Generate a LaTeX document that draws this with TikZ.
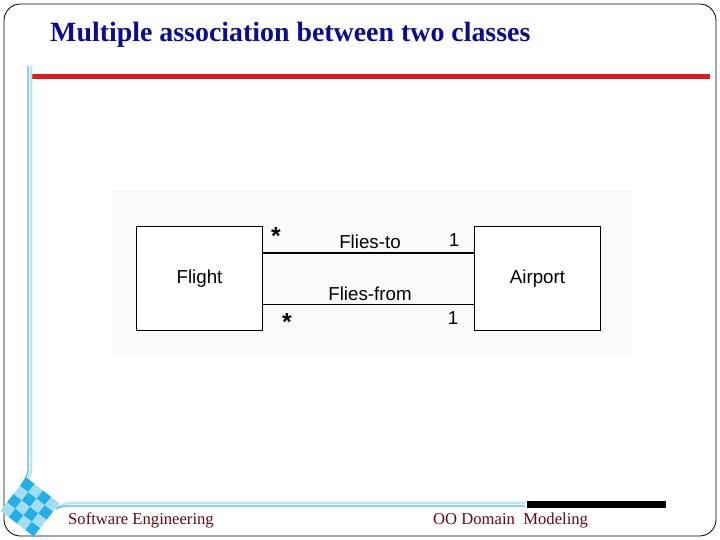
\documentclass[tikz,border=0pt]{standalone}
\usepackage{fontspec}
\setmainfont{Liberation Serif}
\newfontfamily\umlfont{Liberation Sans}
\usetikzlibrary{positioning, calc}
\definecolor{TitleBlue}{HTML}{0C0C8E}
\definecolor{RuleRed}{HTML}{E01A1A}
\definecolor{AccentCyan}{HTML}{5CBCD4}
\definecolor{AccentPale}{HTML}{BFE6F0}
\definecolor{TileBlue}{HTML}{22B0E6}
\definecolor{TileLight}{HTML}{A6DCF2}
\definecolor{FootRed}{HTML}{5E0B16}
\definecolor{PanelGray}{HTML}{FAFAFA}

\begin{document}
\begin{tikzpicture}[x=0.03cm, y=-0.03cm,
  classbox/.style={rectangle, draw=black, fill=white, line width=0.7pt,
                   minimum width=3.8cm, minimum height=3.1cm,
                   font=\umlfont\fontsize{16}{18}\selectfont},
  role/.style={anchor=base, inner sep=0pt, font=\umlfont\fontsize{16}{18}\selectfont},
  mult/.style={anchor=base, inner sep=0pt, font=\umlfont\fontsize{16}{18}\selectfont},
  star/.style={anchor=base, inner sep=0pt, font=\umlfont\bfseries\fontsize{21}{24}\selectfont},
  assoc/.style={draw=black, line width=0.8pt},
  accent/.style={draw=AccentCyan, line width=1.1pt},
  foot/.style={anchor=base west, inner sep=0pt, color=FootRed,
               font=\fontsize{14.2}{16}\selectfont}
]
\useasboundingbox (0,0) rectangle (720,540);
\fill[white] (0,0) rectangle (720,540);

%% ---- Slide frame ----
\draw[black, line width=0.7pt, rounded corners=14pt] (4,4) rectangle (716,536);

%% ---- Title and rule ----
\node[anchor=base west, inner sep=0pt, color=TitleBlue,
      font=\bfseries\fontsize{23.8}{28}\selectfont] (title) at (50,42)
      {Multiple association between two classes};
\fill[RuleRed] (32,74) rectangle (710,79);

%% ---- Left and bottom accent lines ----
\draw[AccentPale, line width=2.2pt] (31,66) -- (31,468) .. controls (31,476) and (28,479) .. (25,484);
\draw[accent] (28,66) -- (28,468) .. controls (28,476) and (25,479) .. (22,484);
\draw[AccentPale, line width=2.2pt] (56,510) .. controls (62,504) and (66,503) .. (74,503) -- (525,503);
\draw[accent] (56,508) .. controls (62,506) and (66,506) .. (74,506) -- (525,506);
\fill[black] (527,501) rectangle (666,508);

%% ---- Corner tiles ----
\begin{scope}[shift={(30,507)}, rotate=-38]
  \foreach \i in {0,...,3}
    \foreach \j in {0,...,3} {
      \pgfmathsetmacro{\odd}{mod(\i+\j,2)}
      \ifdim\odd pt=0pt
        \fill[TileBlue] (-21+10.5*\i,-21+10.5*\j) rectangle ++(10.5,10.5);
      \else
        \fill[TileLight] (-21+10.5*\i,-21+10.5*\j) rectangle ++(10.5,10.5);
      \fi
    }
\end{scope}

%% ---- Footer ----
\node[foot] (course) at (68,524) {Software Engineering};
\node[foot] (topic)  at (433,524) {OO Domain\ \ Modeling};

%% ---- Class diagram ----
\fill[PanelGray] (112,190) rectangle (632,355);
\node[classbox] (flight)  at (199.5,278.5) {Flight};
\node[classbox] (airport) at (537.5,278.5) {Airport};

\draw[assoc, line width=1.5pt] (flight.east |- 0,253) -- (airport.west |- 0,253);
\draw[assoc] (flight.east |- 0,304) -- (airport.west |- 0,304);

\node[role] (fliesto)   at (370,249) {Flies-to};
\node[role] (fliesfrom) at (370,301) {Flies-from};
\node[star] (manyto)   at (276,245) {*};
\node[mult] (oneto)    at (454,247) {1};
\node[star] (manyfrom) at (287,331) {*};
\node[mult] (onefrom)  at (453,325) {1};

\end{tikzpicture}
\end{document}
